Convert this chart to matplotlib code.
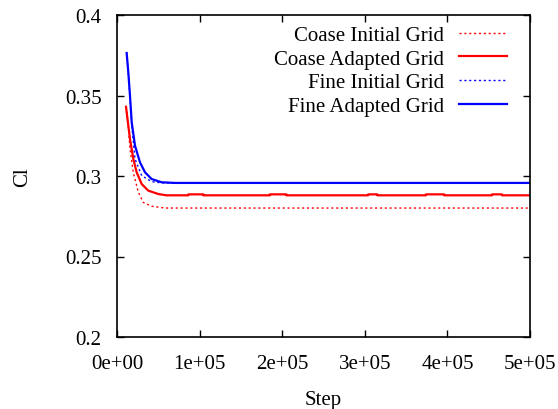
import matplotlib
matplotlib.use("Agg")
import matplotlib.pyplot as plt
from matplotlib.ticker import FuncFormatter, FixedLocator

plt.rcParams['font.family'] = ['Liberation Serif', 'DejaVu Serif']

# ---- data ----
coarse_init_step = [1.09e4, 1.37e4, 1.57e4, 1.98e4, 2.58e4, 3.18e4, 4.2e4, 5.8e4, 1.0e5, 2.0e5, 3.0e5, 4.0e5, 5.0e5]
coarse_init_c1   = [0.343, 0.331, 0.317, 0.302, 0.290, 0.2836, 0.2812, 0.2801, 0.2801, 0.2801, 0.2801, 0.2801, 0.2801]

coarse_adapt_step = [1.09e4, 1.37e4, 1.57e4, 1.98e4, 2.38e4, 2.99e4, 3.79e4, 5.0e4, 6.0e4,
                     8.63e4, 8.64e4, 1.045e5, 1.046e5,
                     1.85e5, 1.851e5, 2.05e5, 2.051e5,
                     3.04e5, 3.041e5, 3.15e5, 3.151e5,
                     3.74e5, 3.741e5, 3.96e5, 3.961e5,
                     4.54e5, 4.541e5, 4.66e5, 4.661e5, 5.0e5]
coarse_adapt_c1 = [0.343, 0.3313, 0.323, 0.3106, 0.3023, 0.295, 0.2909, 0.2888, 0.2880,
                   0.2880, 0.2886, 0.2886, 0.2880,
                   0.2880, 0.2886, 0.2886, 0.2880,
                   0.2880, 0.2886, 0.2886, 0.2880,
                   0.2880, 0.2886, 0.2886, 0.2880,
                   0.2880, 0.2886, 0.2886, 0.2880, 0.2880]

fine_init_step = [1.17e4, 1.37e4, 1.57e4, 1.78e4, 2.18e4, 2.99e4, 4.2e4, 5.4e4, 1.06e5]
fine_init_c1   = [0.376, 0.364, 0.349, 0.332, 0.3106, 0.3002, 0.2965, 0.2957, 0.2955]

fine_adapt_step = [1.17e4, 1.37e4, 1.57e4, 1.78e4, 2.18e4, 2.78e4, 3.39e4, 4.2e4, 5.4e4, 7.0e4, 5.0e5]
fine_adapt_c1   = [0.3764, 0.3644, 0.350, 0.3334, 0.3188, 0.3085, 0.3023, 0.2981, 0.2961, 0.2957, 0.2957]

x_ticks = [0, 1e5, 2e5, 3e5, 4e5, 5e5]
y_ticks = [0.2, 0.25, 0.3, 0.35, 0.4]

# ---- figure ----
fig = plt.figure(figsize=(5.58, 4.10), dpi=100)
ax = fig.add_axes([117/558, 72/410, 413/558, 322/410])

fs = 15
ax.plot(coarse_init_step, coarse_init_c1, color='#ff0000', lw=1.0, ls=(0, (1.5, 2.0)),
        label='Coase Initial Grid')
ax.plot(coarse_adapt_step, coarse_adapt_c1, color='#ff0000', lw=1.6,
        label='Coase Adapted Grid')
ax.plot(fine_init_step, fine_init_c1, color='#0000ff', lw=1.0, ls=(0, (1.5, 2.0)),
        label='Fine Initial Grid')
ax.plot(fine_adapt_step, fine_adapt_c1, color='#0000ff', lw=1.6,
        label='Fine Adapted Grid')

ax.set_xlim(0, 5e5)
ax.set_ylim(0.2, 0.4)
ax.xaxis.set_major_locator(FixedLocator(x_ticks))
ax.yaxis.set_major_locator(FixedLocator(y_ticks))
ax.xaxis.set_major_formatter(FuncFormatter(lambda v, p: '%.0e' % v))
ax.yaxis.set_major_formatter(FuncFormatter(lambda v, p: '%g' % v))
ax.tick_params(direction='in', top=True, right=True, length=5, width=1.0,
               labelsize=fs)
ax.tick_params(axis='x', pad=12)
ax.tick_params(axis='y', pad=11)
for s in ax.spines.values():
    s.set_linewidth(1.2)

ax.set_xlabel('Step', fontsize=fs)
ax.set_ylabel('Cl', fontsize=fs)
ax.xaxis.set_label_coords(0.5, -0.165)
ax.yaxis.set_label_coords(-0.205, 0.5)

ax.legend(loc='upper right', bbox_to_anchor=(0.9436, 0.968), frameon=False,
          markerfirst=False, fontsize=fs, handlelength=2.3, handletextpad=0.7,
          labelspacing=0.2, borderpad=0, borderaxespad=0)

fig.savefig('out.png', dpi=100)
